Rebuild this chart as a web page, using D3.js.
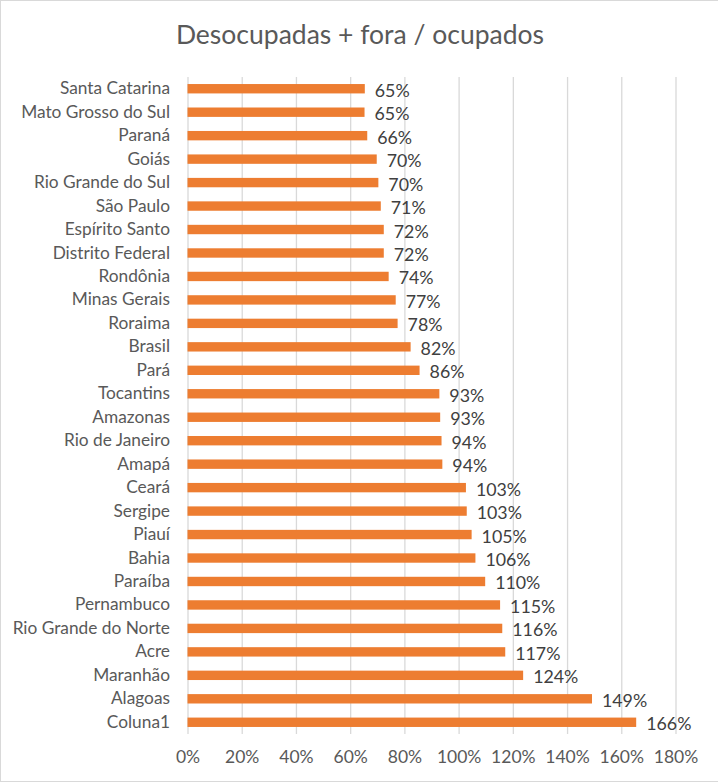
<!DOCTYPE html>
<html>
<head>
<meta charset="utf-8">
<script src="https://cdn.jsdelivr.net/npm/d3@7"></script>
<style>
  html, body { margin: 0; padding: 0; background: #fff; }
  svg { display: block; font-family: Lato, "Open Sans", sans-serif; }
</style>
</head>
<body>
<svg id="chart" width="718" height="783"></svg>
<script>
const title = "Desocupadas + fora / ocupados";
const categories = [
  "Santa Catarina", "Mato Grosso do Sul", "Paraná", "Goiás", "Rio Grande do Sul",
  "São Paulo", "Espírito Santo", "Distrito Federal", "Rondônia", "Minas Gerais",
  "Roraima", "Brasil", "Pará", "Tocantins", "Amazonas", "Rio de Janeiro", "Amapá",
  "Ceará", "Sergipe", "Piauí", "Bahia", "Paraíba", "Pernambuco",
  "Rio Grande do Norte", "Acre", "Maranhão", "Alagoas", "Coluna1"
];
const values = [
  65.4, 65.3, 66.3, 69.8, 70.4,
  71.3, 72.4, 72.4, 74.2, 76.8,
  77.5, 82.3, 85.6, 92.9, 93.2, 93.7, 94.0,
  102.7, 103.0, 104.8, 106.2, 109.8, 115.3,
  116.1, 117.2, 123.8, 149.2, 165.5
];
const tickValues = [0, 20, 40, 60, 80, 100, 120, 140, 160, 180];

const svg = d3.select("#chart");
const W = 718, H = 783;
const plot = { left: 187.5, right: 675.5, top: 77, bottom: 734 };

// chart border
svg.append("rect")
  .attr("x", 0.5).attr("y", 0.5)
  .attr("width", W + 2).attr("height", 781)
  .attr("fill", "#fff").attr("stroke", "#d9d9d9").attr("stroke-width", 1);

const x = d3.scaleLinear().domain([0, 180]).range([plot.left, plot.right]);
const y = d3.scaleBand().domain(categories).range([plot.top, plot.bottom])
  .paddingInner(0.6).paddingOuter(0.3);

// gridlines
const grid = svg.append("g")
  .attr("transform", `translate(0,${plot.bottom})`)
  .call(d3.axisBottom(x).tickValues(tickValues).tickSize(-(plot.bottom - plot.top)).tickFormat(""));
grid.select(".domain").remove();
grid.selectAll("line").attr("stroke", "#d9d9d9").attr("stroke-width", 1.3);

// tick labels
const xAxis = svg.append("g")
  .attr("transform", `translate(0,${plot.bottom})`)
  .call(d3.axisBottom(x).tickValues(tickValues).tickSize(0).tickPadding(17).tickFormat(d => d + "%"));
xAxis.select(".domain").remove();
xAxis.selectAll("text")
  .attr("fill", "#595959")
  .style("font-family", "Lato, sans-serif")
  .style("font-size", "17.5px");

// category labels
const yAxis = svg.append("g")
  .attr("transform", `translate(${plot.left},0)`)
  .call(d3.axisLeft(y).tickSize(0).tickPadding(17.5));
yAxis.select(".domain").remove();
yAxis.selectAll("text")
  .attr("fill", "#595959")
  .style("font-family", "Lato, sans-serif")
  .style("font-size", "17.3px");

// bars
svg.append("g").selectAll("rect")
  .data(categories)
  .join("rect")
  .attr("x", x(0))
  .attr("y", d => y(d))
  .attr("width", (d, i) => x(values[i]) - x(0))
  .attr("height", y.bandwidth())
  .attr("fill", "#ED7D31");

// value labels
svg.append("g").selectAll("text")
  .data(categories)
  .join("text")
  .attr("x", (d, i) => x(values[i]) + 10)
  .attr("y", d => y(d) + y.bandwidth() / 2 + 1)
  .attr("dominant-baseline", "central")
  .attr("fill", "#404040")
  .style("font-size", "17.8px")
  .text((d, i) => Math.round(values[i]) + "%");

// title
svg.append("text")
  .attr("x", 360)
  .attr("y", 44)
  .attr("text-anchor", "middle")
  .attr("fill", "#595959")
  .style("font-size", "26.5px")
  .text(title);
</script>
</body>
</html>
